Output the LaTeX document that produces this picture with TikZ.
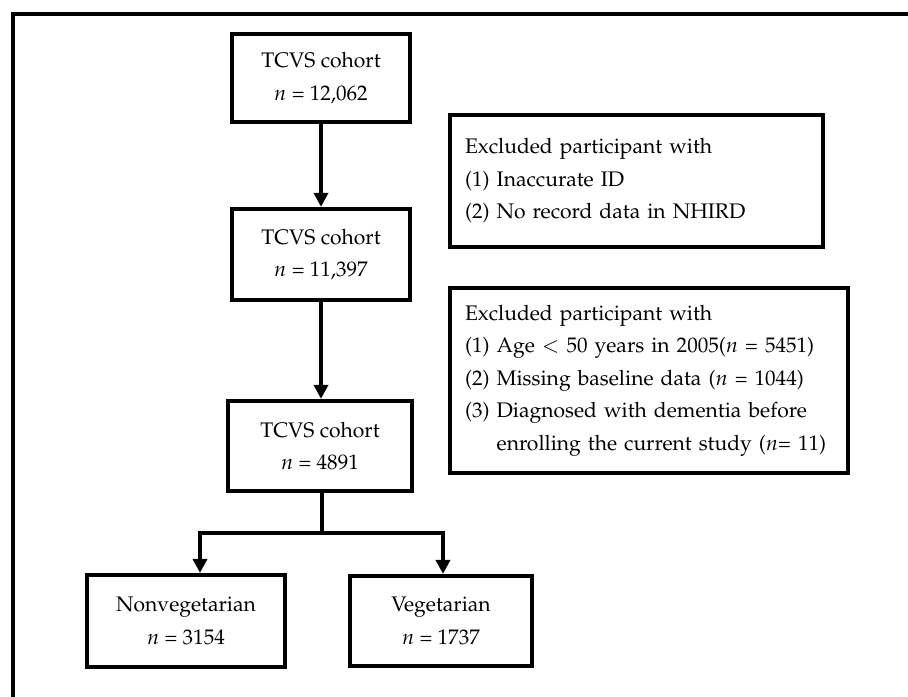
\documentclass[tikz,border=0pt]{standalone}
\usepackage[T1]{fontenc}
\usepackage{mathpazo}
\usepackage{tikz}
\usetikzlibrary{arrows.meta}

\begin{document}
\begin{tikzpicture}[x=0.02cm, y=-0.02cm,
        box/.style={draw, line width=2.4pt, align=center, inner sep=0pt,
            font=\fontsize{12}{18.5}\selectfont},
        exclbox/.style={draw, line width=2.4pt, align=left, inner xsep=0.3cm,
            font=\fontsize{12}{18.5}\selectfont},
        arr/.style={line width=2.2pt, -{Triangle[length=0.28cm, width=0.28cm]}}]
        \useasboundingbox (0,0) rectangle (908,696);
        % Cornice
        \draw[line width=2pt] (13,700) -- (13,14) -- (912,14);
        % Coorte TCVS
        \node[box, minimum width=3.56cm, minimum height=1.76cm] (cohort1) at (321,78) {TCVS cohort\\$n$ = 12,062};
        \node[box, minimum width=3.56cm, minimum height=1.82cm] (cohort2) at (321,254.5) {TCVS cohort\\$n$ = 11,397};
        \node[box, minimum width=3.68cm, minimum height=1.8cm] (cohort3) at (320,446) {TCVS cohort\\$n$ = 4891};
        \draw[arr] (cohort1.south) -- (cohort2.north);
        \draw[arr] (cohort2.south) -- (cohort2.south |- cohort3.north);
        % Esclusi
        \node[exclbox, text width=6.86cm, minimum height=2.64cm] (excl1) at (636.5,181) {Excluded participant with\\(1) Inaccurate ID\\(2) No record data in NHIRD};
        \node[exclbox, text width=7.36cm, minimum height=3.7cm] (excl2) at (649,380.5) {Excluded participant with\\(1) Age $<$ 50 years in 2005($n$ = 5451)\\(2) Missing baseline data ($n$ = 1044)\\(3) Diagnosed with dementia before\\\phantom{(3)}\ enrolling the current study ($n$= 11)};
        % Gruppi
        \node[box, minimum width=3.96cm, minimum height=1.84cm] (nonveg) at (186,621) {Nonvegetarian\\$n$ = 3154};
        \node[box, minimum width=3.64cm, minimum height=1.8cm] (veg) at (441,621) {Vegetarian\\$n$ = 1737};
        \coordinate (split) at (322,533);
        \coordinate (splitL) at (200,533);
        \coordinate (splitR) at (443,533);
        \draw[line width=2.2pt] (cohort3.south -| split) -- (split);
        \draw[line width=2.2pt, line cap=rect] (splitL) -- (splitR);
        \draw[arr] (splitL) -- (splitL |- nonveg.north);
        \draw[arr] (splitR) -- (splitR |- veg.north);
    \end{tikzpicture}
\end{document}
